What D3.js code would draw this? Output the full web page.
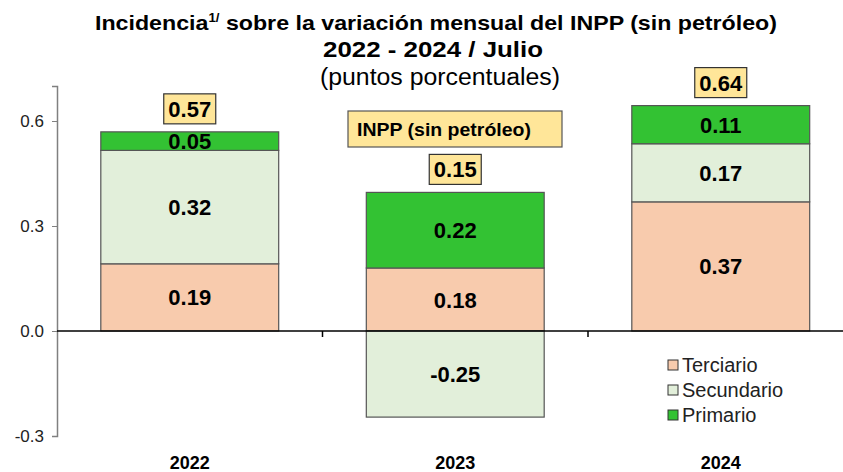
<!DOCTYPE html>
<html>
<head>
<meta charset="utf-8">
<script src="https://cdn.jsdelivr.net/npm/d3@7"></script>
<style>
  body { margin: 0; background: #fff; }
  svg { font-family: "Liberation Sans", Arial, sans-serif; }
</style>
</head>
<body>
<div id="container"></div>
<script>
// years and sector contributions (percentage points)
const years = ['2022', '2023', '2024'];
const terciario = [0.192, 0.180, 0.369];
const secundario = [0.324, -0.246, 0.166];
const primario = [0.053, 0.216, 0.109];
const totals = [0.57, 0.15, 0.64];
const yTicks = [-0.3, 0.0, 0.3, 0.6];

const sectors = ['Terciario', 'Secundario', 'Primario'];
const colors = { Terciario: '#F8CBAD', Secundario: '#E2EFDA', Primario: '#33C233' };

const rows = years.map((y, i) => ({
    year: y,
    Terciario: terciario[i],
    Secundario: secundario[i],
    Primario: primario[i],
    total: totals[i]
}));

// plain hyphen for negatives
const loc = d3.formatLocale({ decimal: '.', thousands: ',', grouping: [3], currency: ['$', ''], minus: '-' });
const fmt = loc.format('.2f');

// chart size
const w = 843;
const h = 472;
const left = 57;

const xScale = d3.scaleBand()
                .domain(years)
                .range([left, left + 3 * 265.5])
                .paddingInner(0.33)
                .paddingOuter(0.165);

const yScale = d3.scaleLinear()
                .domain([-0.3, 0.7])
                .range([436, 86]);

const svg = d3.select('#container')
                .append('svg')
                .attr('width', w)
                .attr('height', h);

// title
const title = svg.append('g').attr('text-anchor', 'middle');
title.append('text')
    .attr('x', 436).attr('y', 30)
    .attr('font-size', 21).attr('font-weight', 'bold')
    .attr('textLength', 682).attr('lengthAdjust', 'spacingAndGlyphs')
    .html('Incidencia<tspan font-size="12" dy="-8">1/</tspan><tspan dy="8"> sobre la variación mensual del INPP (sin petróleo)</tspan>');
title.append('text')
    .attr('x', 433).attr('y', 57)
    .attr('font-size', 22).attr('font-weight', 'bold')
    .attr('textLength', 220).attr('lengthAdjust', 'spacingAndGlyphs')
    .text('2022 - 2024 / Julio');
title.append('text')
    .attr('x', 440).attr('y', 85)
    .attr('font-size', 23)
    .attr('textLength', 240).attr('lengthAdjust', 'spacingAndGlyphs')
    .text('(puntos porcentuales)');

// y axis
const yAxis = d3.axisLeft(yScale)
                .tickValues(yTicks)
                .tickFormat(loc.format('.1f'))
                .tickSize(5)
                .tickPadding(8);

const gy = svg.append('g')
    .attr('transform', `translate(${left}, 0)`)
    .call(yAxis);
gy.select('.domain').attr('stroke', '#808080').attr('stroke-width', 1.5);
gy.selectAll('.tick line').attr('stroke', '#808080');
gy.selectAll('.tick text').attr('font-size', 17).attr('fill', '#222');

// stacked bars
const series = d3.stack()
                .keys(sectors)
                .offset(d3.stackOffsetDiverging)(rows);

series.forEach(s => {
    const g = svg.append('g');
    g.selectAll('rect')
        .data(s)
        .join('rect')
        .attr('x', d => xScale(d.data.year))
        .attr('width', xScale.bandwidth())
        .attr('y', d => yScale(Math.max(d[0], d[1])))
        .attr('height', d => Math.abs(yScale(d[0]) - yScale(d[1])))
        .attr('fill', colors[s.key])
        .attr('stroke', '#555')
        .attr('stroke-width', 1.2);
    g.selectAll('text')
        .data(s)
        .join('text')
        .attr('x', d => xScale(d.data.year) + xScale.bandwidth() / 2)
        .attr('y', d => (yScale(d[0]) + yScale(d[1])) / 2 + 8)
        .attr('text-anchor', 'middle')
        .attr('font-size', 22).attr('font-weight', 'bold')
        .text(d => fmt(d.data[s.key]));
});

// zero line with category ticks
const gx = svg.append('g')
    .attr('transform', `translate(0, ${yScale(0)})`);
gx.append('line')
    .attr('x1', left).attr('x2', w)
    .attr('stroke', '#000').attr('stroke-width', 1.5);
gx.selectAll('line.tk')
    .data([1, 2])
    .join('line')
    .attr('class', 'tk')
    .attr('x1', i => xScale(years[i]) - xScale.step() * xScale.paddingInner() / 2)
    .attr('x2', i => xScale(years[i]) - xScale.step() * xScale.paddingInner() / 2)
    .attr('y1', 0).attr('y2', 6)
    .attr('stroke', '#000').attr('stroke-width', 1.5);

// year labels
svg.append('g')
    .selectAll('text')
    .data(years)
    .join('text')
    .attr('x', d => xScale(d) + xScale.bandwidth() / 2)
    .attr('y', 469)
    .attr('text-anchor', 'middle')
    .attr('font-size', 18).attr('font-weight', 'bold')
    .text(d => d);

// total boxes
const stackTop = d => {
    const vals = [d.Terciario, d.Secundario, d.Primario];
    return d3.sum(vals.filter(v => v > 0));
};
const tg = svg.append('g').selectAll('g')
    .data(rows)
    .join('g')
    .attr('transform', d => `translate(${xScale(d.year) + xScale.bandwidth() / 2}, ${yScale(stackTop(d)) - 8})`);
tg.append('rect')
    .attr('x', -26).attr('y', -30)
    .attr('width', 52).attr('height', 30)
    .attr('fill', '#FFE699').attr('stroke', '#333').attr('stroke-width', 1.2);
tg.append('text')
    .attr('y', -7)
    .attr('text-anchor', 'middle')
    .attr('font-size', 22).attr('font-weight', 'bold')
    .text(d => fmt(d.total));

// INPP label box
const ib = svg.append('g').attr('transform', 'translate(348, 111)');
ib.append('rect')
    .attr('width', 214).attr('height', 36)
    .attr('fill', '#FFE699').attr('stroke', '#555').attr('stroke-width', 1.2);
ib.append('text')
    .attr('x', 9).attr('y', 25)
    .attr('font-size', 19).attr('font-weight', 'bold')
    .attr('textLength', 174).attr('lengthAdjust', 'spacingAndGlyphs')
    .text('INPP (sin petróleo)');

// legend
const lg = svg.append('g').attr('transform', 'translate(668, 360)')
    .selectAll('g')
    .data(sectors)
    .join('g')
    .attr('transform', (d, i) => `translate(0, ${i * 25})`);
lg.append('rect')
    .attr('width', 10).attr('height', 10)
    .attr('fill', d => colors[d]).attr('stroke', '#333');
lg.append('text')
    .attr('x', 14).attr('y', 12)
    .attr('font-size', 20).attr('fill', '#222')
    .text(d => d);
</script>
</body>
</html>
